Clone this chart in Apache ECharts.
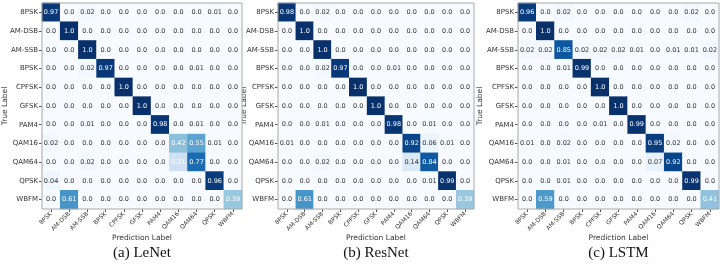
<!DOCTYPE html>
<html><head><meta charset="utf-8">
<script src="https://cdn.jsdelivr.net/npm/echarts@6/dist/echarts.min.js"></script>
<style>html,body{margin:0;padding:0;background:#fff}#c{width:720px;height:266px}</style>
</head><body><div id="c"></div>
<script>
const classes = ['8PSK','AM-DSB','AM-SSB','BPSK','CPFSK','GFSK','PAM4','QAM16','QAM64','QPSK','WBFM'];
const captions = ['(a) LeNet','(b) ResNet','(c) LSTM'];
const lenet = [
 [0.97,0.0,0.02,0.0,0.0,0.0,0.0,0.0,0.0,0.01,0.0],
 [0.0,1.0,0.0,0.0,0.0,0.0,0.0,0.0,0.0,0.0,0.0],
 [0.0,0.0,1.0,0.0,0.0,0.0,0.0,0.0,0.0,0.0,0.0],
 [0.0,0.0,0.02,0.97,0.0,0.0,0.0,0.0,0.01,0.0,0.0],
 [0.0,0.0,0.0,0.0,1.0,0.0,0.0,0.0,0.0,0.0,0.0],
 [0.0,0.0,0.0,0.0,0.0,1.0,0.0,0.0,0.0,0.0,0.0],
 [0.0,0.0,0.01,0.0,0.0,0.0,0.98,0.0,0.01,0.0,0.0],
 [0.02,0.0,0.0,0.0,0.0,0.0,0.0,0.42,0.55,0.01,0.0],
 [0.0,0.0,0.02,0.0,0.0,0.0,0.0,0.21,0.77,0.0,0.0],
 [0.04,0.0,0.0,0.0,0.0,0.0,0.0,0.0,0.0,0.96,0.0],
 [0.0,0.61,0.0,0.0,0.0,0.0,0.0,0.0,0.0,0.0,0.39]
];
const resnet = [
 [0.98,0.0,0.02,0.0,0.0,0.0,0.0,0.0,0.0,0.0,0.0],
 [0.0,1.0,0.0,0.0,0.0,0.0,0.0,0.0,0.0,0.0,0.0],
 [0.0,0.0,1.0,0.0,0.0,0.0,0.0,0.0,0.0,0.0,0.0],
 [0.0,0.0,0.02,0.97,0.0,0.0,0.01,0.0,0.0,0.0,0.0],
 [0.0,0.0,0.0,0.0,1.0,0.0,0.0,0.0,0.0,0.0,0.0],
 [0.0,0.0,0.0,0.0,0.0,1.0,0.0,0.0,0.0,0.0,0.0],
 [0.0,0.0,0.01,0.0,0.0,0.0,0.98,0.0,0.01,0.0,0.0],
 [0.01,0.0,0.0,0.0,0.0,0.0,0.0,0.92,0.06,0.01,0.0],
 [0.0,0.0,0.02,0.0,0.0,0.0,0.0,0.14,0.84,0.0,0.0],
 [0.0,0.0,0.0,0.0,0.0,0.0,0.0,0.0,0.01,0.99,0.0],
 [0.0,0.61,0.0,0.0,0.0,0.0,0.0,0.0,0.0,0.0,0.39]
];
const lstm = [
 [0.96,0.0,0.02,0.0,0.0,0.0,0.0,0.0,0.0,0.02,0.0],
 [0.0,1.0,0.0,0.0,0.0,0.0,0.0,0.0,0.0,0.0,0.0],
 [0.02,0.02,0.85,0.02,0.02,0.02,0.01,0.0,0.01,0.01,0.02],
 [0.0,0.0,0.01,0.99,0.0,0.0,0.0,0.0,0.0,0.0,0.0],
 [0.0,0.0,0.0,0.0,1.0,0.0,0.0,0.0,0.0,0.0,0.0],
 [0.0,0.0,0.0,0.0,0.0,1.0,0.0,0.0,0.0,0.0,0.0],
 [0.0,0.0,0.0,0.0,0.01,0.0,0.99,0.0,0.0,0.0,0.0],
 [0.01,0.0,0.02,0.0,0.0,0.0,0.0,0.95,0.02,0.0,0.0],
 [0.0,0.0,0.01,0.0,0.0,0.0,0.0,0.07,0.92,0.0,0.0],
 [0.0,0.0,0.01,0.0,0.0,0.0,0.0,0.0,0.0,0.99,0.0],
 [0.0,0.59,0.0,0.0,0.0,0.0,0.0,0.0,0.0,0.0,0.41]
];
const matrices = [lenet, resnet, lstm];

const blues = ['#f7fbff','#deebf7','#c6dbef','#9ecae1','#6baed6','#4292c6','#2171b5','#08519c','#08306b'];
const grids = [
  {left:42, top:3, width:200, height:206},
  {left:278, top:3, width:196, height:206},
  {left:518, top:3, width:201, height:206}
];
const yGaps = [33, 30, 34];
const fmt = v => v === 0 ? '0.0' : (v === 1 ? '1.0' : String(v));

const option = {
  animation:false,
  backgroundColor:'#fff',
  textStyle:{fontFamily:'DejaVu Sans'},
  grid: grids.map(g => Object.assign({show:true, z:5, borderColor:'#a8a8a8', borderWidth:1, backgroundColor:'transparent', outerBoundsMode:'none', containLabel:false}, g)),
  xAxis: grids.map((g,i) => ({
    type:'category', gridIndex:i, data:classes, position:'bottom',
    name:'Prediction Label', nameLocation:'middle', nameGap:25, nameMoveOverlap:false,
    nameTextStyle:{fontSize:7.5, color:'#333'},
    axisLine:{show:false}, splitLine:{show:false},
    axisTick:{show:true, alignWithLabel:true, length:3, lineStyle:{color:'#555'}},
    axisLabel:{rotate:45, fontSize:6, color:'#333', margin:4, interval:0}
  })),
  yAxis: grids.map((g,i) => ({
    type:'category', gridIndex:i, data:classes, inverse:true,
    name:'True Label', nameLocation:'middle', nameGap:yGaps[i], nameRotate:90, nameMoveOverlap:false,
    nameTextStyle:{fontSize:7.5, color:'#333'},
    axisLine:{show:false}, splitLine:{show:false},
    axisTick:{show:true, alignWithLabel:true, length:3, lineStyle:{color:'#555'}},
    axisLabel:{fontSize:7, color:'#333', margin:4, interval:0}
  })),
  visualMap: [{
    show:false, min:0, max:1, seriesIndex:[0,1,2], dimension:2,
    inRange:{color:blues}
  }],
  series: matrices.map((m,k) => ({
    type:'heatmap', xAxisIndex:k, yAxisIndex:k,
    itemStyle:{borderWidth:0},
    label:{show:true, fontSize:6.5, formatter:p => fmt(p.value[2])},
    data: m.flatMap((row,i) => row.map((v,j) => ({
      value:[j,i,v],
      label:{color: v >= 0.2 ? '#ffffff' : '#333333'}
    })))
  })),
  graphic: captions.map((c,i) => ({
    type:'text', x: grids[i].left + grids[i].width/2, y:253,
    style:{text:c, fontFamily:'Liberation Serif', fontSize:15, fill:'#111', textAlign:'center', textVerticalAlign:'middle'}
  }))
};
const chart = echarts.init(document.getElementById('c'), null, {renderer:'canvas'});
chart.setOption(option);
</script></body></html>
